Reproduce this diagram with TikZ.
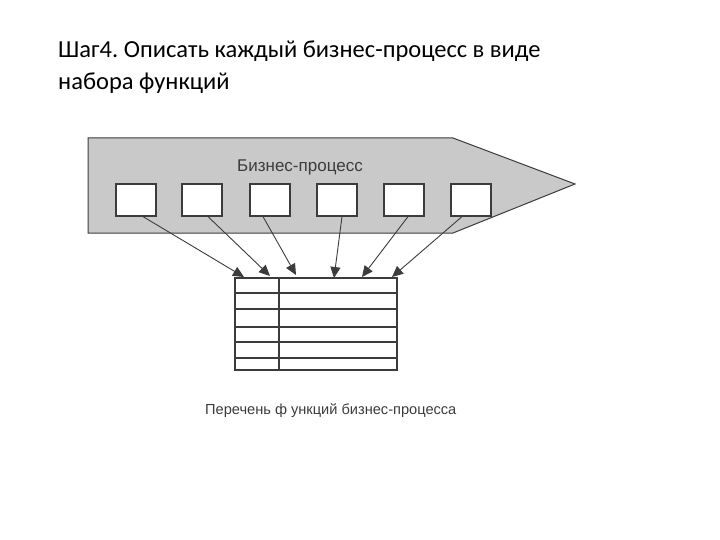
\documentclass[tikz,border=0pt]{standalone}
\usepackage{fontspec}
\setmainfont{Carlito}
\newfontfamily\arialfont{Liberation Sans}
\usetikzlibrary{arrows.meta}
\definecolor{procgray}{HTML}{C9C9C9}
\definecolor{edgegray}{HTML}{3C3C3C}
\frenchspacing
\tikzset{
  funcbox/.style={draw=edgegray, fill=white, line width=1.2pt, minimum width=40pt, minimum height=32pt, inner sep=0pt},
  funcarrow/.style={-{Triangle[length=11pt, width=10pt]}, edgegray, line width=0.9pt},
}
\begin{document}
\begin{tikzpicture}[x=1pt, y=-1pt]
  \useasboundingbox[fill=white] (0, 0) rectangle (720, 540);
  \node[anchor=base west, inner sep=0pt, font=\fontsize{24.5}{32}\selectfont] (title1) at (58, 58) {Шаг4. Описать каждый бизнес-процесс в виде};
  \node[anchor=base west, inner sep=0pt, font=\fontsize{24.5}{32}\selectfont] (title2) at (58, 90) {набора функций};
  % business process arrow
  \draw[fill=procgray, draw=edgegray, line width=1pt]
    (88, 138) -- (453, 138) -- (575, 184) -- (453, 233) -- (88, 233) -- cycle;
  \node[edgegray, font=\arialfont\fontsize{17}{20}\selectfont] (bp) at (300, 167) {Бизнес-процесс};
  \foreach \i/\cx in {1/136, 2/202, 3/270, 4/337, 5/404, 6/471} {
    \node[funcbox] (f\i) at (\cx, 200) {};
  }
  % function list
  \draw[edgegray, line width=1.4pt] (235, 278) rectangle (397, 370);
  \draw[edgegray, line width=1.4pt] (279, 278) -- (279, 370);
  \foreach \ry in {293, 309, 327, 342, 358} {
    \draw[edgegray, line width=1.4pt] (235, \ry) -- (397, \ry);
  }
  \foreach \i/\tx/\ty in {1/244/277, 2/270/276, 3/296/275, 4/334/278, 5/362/277, 6/392/277} {
    \coordinate (t\i) at (\tx, \ty);
  }
  \foreach \i/\dx in {1/7, 2/6, 3/-7, 4/5, 5/4, 6/-9} {
    \draw[funcarrow] ([xshift=\dx]f\i.south) -- (t\i);
  }
  \node[anchor=base west, inner sep=0pt, edgegray, font=\arialfont\fontsize{14.6}{16}\selectfont] (caption) at (205, 414) {Перечень ф ункций бизнес-процесса};
\end{tikzpicture}
\end{document}
